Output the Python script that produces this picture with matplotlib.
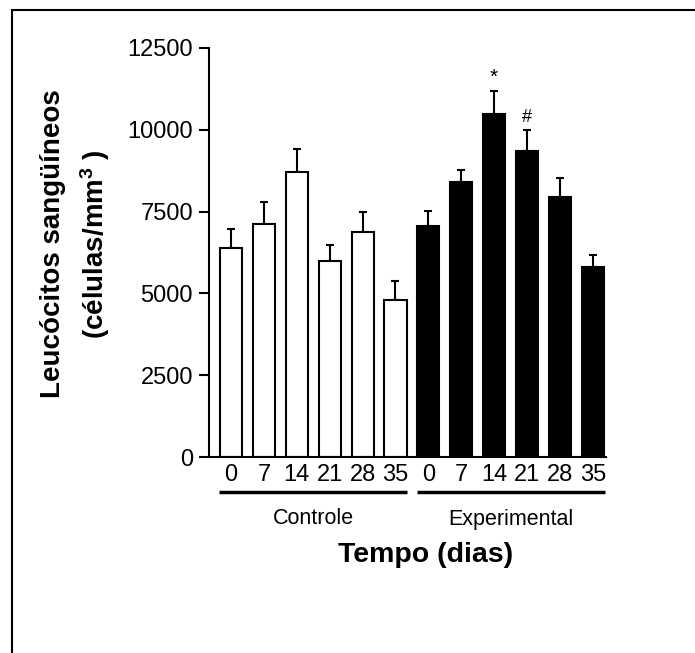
import matplotlib
import matplotlib.pyplot as plt
import matplotlib.transforms as mtransforms
from matplotlib.patches import Rectangle
import numpy as np

matplotlib.use("Agg")

# data
days = ["0", "7", "14", "21", "28", "35"]
groups = ["Controle", "Experimental"]
controle_mean = [6380, 7120, 8710, 5990, 6880, 4790]
controle_err = [580, 670, 700, 490, 620, 590]
experimental_mean = [7060, 8400, 10480, 9350, 7940, 5800]
experimental_err = [460, 370, 700, 640, 580, 370]
marks = {"14": "*", "21": "#"}  # significance marks on the experimental bars

plt.rcParams["font.family"] = ["Liberation Sans", "DejaVu Sans"]
plt.rcParams["mathtext.fontset"] = "custom"
plt.rcParams["mathtext.rm"] = "Liberation Sans:bold"
plt.rcParams["mathtext.bf"] = "Liberation Sans:bold"
plt.rcParams["mathtext.default"] = "bf"

fig = plt.figure(figsize=(6.95, 6.53), dpi=100)
ax = fig.add_axes([209 / 695, 1 - 457 / 653, 397 / 695, 409 / 653])

n = len(days)
x_c = np.arange(n)
x_e = np.arange(n) + n
width = 0.67
lw = 1.5

for xs, means, errs, color in [(x_c, controle_mean, controle_err, "white"),
                               (x_e, experimental_mean, experimental_err, "black")]:
    ax.errorbar(xs, means, yerr=[np.zeros(n), errs], fmt="none", ecolor="black",
                elinewidth=lw, capsize=3, capthick=lw, zorder=1)
    ax.bar(xs, means, width=width, color=color, edgecolor="black", linewidth=lw, zorder=2)

for i, d in enumerate(days):
    if d in marks:
        star = marks[d] == "*"
        ax.annotate(marks[d], (x_e[i], experimental_mean[i] + experimental_err[i]),
                    xytext=(0, 3.5 if star else 3), textcoords="offset points",
                    ha="center", va="bottom", fontsize=15 if star else 13)

ax.set_xlim(-0.67, 2 * n - 0.6)
ax.set_ylim(0, 12500)
ax.set_yticks([0, 2500, 5000, 7500, 10000, 12500])
ax.set_xticks(np.concatenate([x_c, x_e]))
ax.set_xticklabels(days + days)
ax.tick_params(axis="y", length=7.5, width=lw, labelsize=17, pad=4)
ax.tick_params(axis="x", length=0, labelsize=17, pad=5)
for s in ["top", "right"]:
    ax.spines[s].set_visible(False)
for s in ["left", "bottom"]:
    ax.spines[s].set_linewidth(lw)

# group underlines and names
trans = mtransforms.blended_transform_factory(ax.transData, ax.transAxes)
for g, xs in zip(groups, [x_c, x_e]):
    ax.plot([xs[0] - 0.36, xs[-1] + 0.36], [-35 / 409, -35 / 409], color="black",
            linewidth=2.5, transform=trans, clip_on=False, solid_capstyle="butt")
    ax.text((xs[0] + xs[-1]) / 2, -62 / 409, g, transform=trans, ha="center",
            va="center", fontsize=15.5)

fig.text(426 / 695, 1 - 555 / 653, "Tempo (dias)", ha="center", va="center",
         fontsize=20.5, fontweight="bold")
fig.text(76 / 695, 1 - 244 / 653, "Leucócitos sangüíneos\n(células/mm$^{3}$ )",
         rotation=90, ha="center", va="center", multialignment="center",
         fontsize=20, fontweight="bold", linespacing=1.45)

# outer frame (runs off the right and bottom edges)
fig.add_artist(Rectangle((12 / 695, -0.2), 1.2, 0.2 + 1 - 10 / 653, transform=fig.transFigure,
                         fill=False, edgecolor="black", linewidth=1.5))

fig.savefig("out.png", dpi=100)
plt.close(fig)
